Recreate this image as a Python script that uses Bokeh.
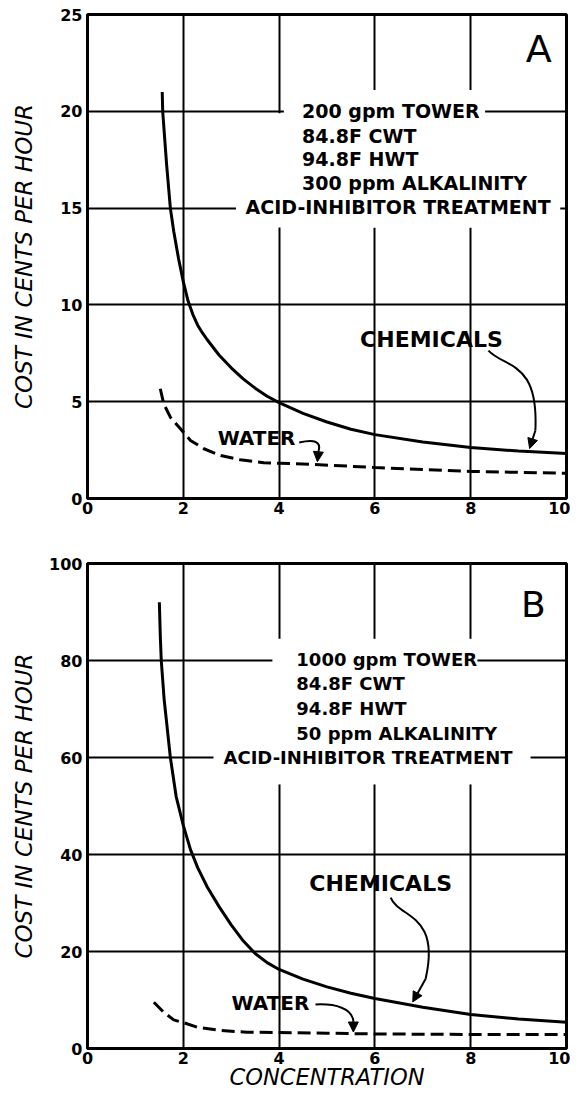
from bokeh.plotting import figure
from bokeh.layouts import column
from bokeh.models import Range1d, FixedTicker, Label, BoxAnnotation, Arrow, NormalHead
from bokeh.embed import file_html
from bokeh.resources import INLINE

# ---------------- data ----------------
x_ticks = [0, 2, 4, 6, 8, 10]
y_ticks_a = [0, 5, 10, 15, 20, 25]
y_ticks_b = [0, 20, 40, 60, 80, 100]

# Panel A (200 gpm tower)
conc_chem_a = [1.56, 1.57, 1.65, 1.73, 1.8, 1.9, 2.0, 2.1, 2.2, 2.3, 2.4, 2.5, 2.75, 3.0,
               3.25, 3.5, 3.75, 4.0, 4.5, 5.0, 5.5, 6.0, 7.0, 8.0, 9.0, 10.0]
chem_a = [21.0, 20.0, 17.3, 15.0, 13.8, 12.4, 11.2, 10.2, 9.5, 8.95, 8.55, 8.2, 7.4, 6.75,
          6.18, 5.7, 5.28, 4.95, 4.4, 3.95, 3.58, 3.3, 2.92, 2.63, 2.45, 2.32]
conc_water_a = [1.52, 1.59, 1.73, 1.94, 2.15, 2.43, 2.78, 3.19, 3.68, 4.03, 4.72, 6.0, 7.0, 8.0, 9.0, 10.0]
water_a = [5.67, 4.9, 4.2, 3.6, 3.0, 2.57, 2.22, 2.0, 1.85, 1.82, 1.76, 1.6, 1.5, 1.4, 1.35, 1.3]

# Panel B (1000 gpm tower)
conc_chem_b = [1.5, 1.52, 1.54, 1.6, 1.73, 1.85, 2.0, 2.15, 2.3, 2.5, 2.75, 3.0, 3.25, 3.5, 3.75,
               4.0, 4.5, 5.0, 5.5, 6.0, 7.0, 8.0, 9.0, 10.0]
chem_b = [92.0, 85.0, 80.0, 72.0, 60.0, 52.0, 46.0, 41.0, 37.3, 33.3, 29.2, 25.5, 22.2, 19.6, 17.7,
          16.3, 14.3, 12.7, 11.4, 10.3, 8.5, 7.0, 6.1, 5.4]
conc_water_b = [1.385, 1.59, 1.8, 1.98, 2.29, 2.78, 3.33, 3.96, 5.0, 6.0, 7.0, 8.0, 9.0, 10.0]
water_b = [9.55, 7.5, 5.9, 5.4, 4.4, 3.7, 3.36, 3.3, 3.15, 3.0, 2.95, 2.9, 2.9, 2.9]

text_a = ["200 gpm TOWER", "84.8F  CWT", "94.8F  HWT", "300 ppm ALKALINITY", "ACID-INHIBITOR TREATMENT"]
text_b = ["1000 gpm TOWER", "84.8F  CWT", "94.8F  HWT", "50 ppm ALKALINITY", "ACID-INHIBITOR TREATMENT"]

FONT = "DejaVu Sans"


def base_fig(height, top, bottom, ymax, yticks, xlabel, ylabel_standoff):
    p = figure(width=570, height=height, x_range=Range1d(0, 10), y_range=Range1d(0, ymax),
               output_backend="svg", toolbar_location=None,
               min_border_left=87, min_border_right=4, min_border_top=top, min_border_bottom=bottom)
    p.background_fill_color = "white"
    p.border_fill_color = "white"
    p.outline_line_color = "black"
    p.outline_line_width = 3
    p.xaxis.ticker = FixedTicker(ticks=x_ticks)
    p.yaxis.ticker = FixedTicker(ticks=yticks)
    p.xgrid.ticker = FixedTicker(ticks=x_ticks)
    p.ygrid.ticker = FixedTicker(ticks=yticks)
    for g in (p.xgrid, p.ygrid):
        g.grid_line_color = "black"
        g.grid_line_width = 2
        g.grid_line_alpha = 1.0
    for ax in (p.xaxis, p.yaxis):
        ax.axis_line_color = "black"
        ax.axis_line_width = 3
        ax.major_tick_in = 0
        ax.major_tick_out = 0
        ax.minor_tick_line_color = None
        ax.major_label_text_font = FONT
        ax.major_label_text_font_style = "bold"
        ax.major_label_text_font_size = "16px"
        ax.major_label_text_color = "black"
    p.yaxis.major_label_standoff = 5
    p.xaxis.major_label_standoff = 3
    p.yaxis.axis_label = "COST IN CENTS PER HOUR"
    p.yaxis.axis_label_text_font = FONT
    p.yaxis.axis_label_text_font_style = "italic"
    p.yaxis.axis_label_text_font_size = "23px"
    p.yaxis.axis_label_text_color = "black"
    p.yaxis.axis_label_standoff = ylabel_standoff
    if xlabel:
        p.xaxis.axis_label = xlabel
        p.xaxis.axis_label_text_font = FONT
        p.xaxis.axis_label_text_font_style = "italic"
        p.xaxis.axis_label_text_font_size = "22.5px"
        p.xaxis.axis_label_text_color = "black"
        p.xaxis.axis_label_standoff = -3
    return p


def add_text(p, lines, x_left, x_last, ys, size):
    for i, (t, y) in enumerate(zip(lines, ys)):
        xx = x_last if i == len(lines) - 1 else x_left
        p.add_layout(Label(x=xx, y=y, text=t, text_font=FONT, text_font_style="bold",
                           text_font_size=size, text_align="left", text_baseline="middle",
                           text_color="black"))


def add_arrow(p, p0, p1, p2, p3, tip, lw=2):
    p.bezier(x0=[p0[0]], y0=[p0[1]], x1=[p3[0]], y1=[p3[1]],
             cx0=[p1[0]], cy0=[p1[1]], cx1=[p2[0]], cy1=[p2[1]],
             line_color="black", line_width=lw)
    p.add_layout(Arrow(x_start=p3[0], y_start=p3[1], x_end=tip[0], y_end=tip[1],
                       line_color="black", line_width=lw,
                       end=NormalHead(size=10, fill_color="black", line_color="black", line_width=1)))


# ---------------- panel A ----------------
pa = base_fig(540, 14, 42, 25, y_ticks_a, None, 20)
pa.add_layout(BoxAnnotation(left=4.1, right=8.3, bottom=14.0, top=21.1,
                            fill_color="white", fill_alpha=1.0, line_color=None))
pa.add_layout(BoxAnnotation(left=3.1, right=9.87, bottom=14.0, top=19.9,
                            fill_color="white", fill_alpha=1.0, line_color=None))
pa.line(conc_chem_a, chem_a, line_color="black", line_width=3)
pa.line(conc_water_a, water_a, line_color="black", line_width=3, line_dash="13 6")
add_text(pa, text_a, 4.48, 3.30, [20.0, 18.75, 17.56, 16.3, 15.08], "19px")
pa.add_layout(Label(x=9.42, y=23.2, text="A", text_font=FONT, text_font_size="38px",
                    text_align="center", text_baseline="middle", text_color="black"))
pa.add_layout(Label(x=7.18, y=8.2, text="CHEMICALS", text_font=FONT, text_font_style="bold",
                    text_font_size="22px", text_align="center", text_baseline="middle",
                    text_color="black"))
pa.add_layout(Label(x=3.53, y=3.15, text="WATER", text_font=FONT, text_font_style="bold",
                    text_font_size="20px", text_align="center", text_baseline="middle",
                    text_color="black"))
add_arrow(pa, (8.37, 7.64), (8.73, 6.71), (9.42, 7.13), (9.35, 3.51), (9.23, 2.58))
add_arrow(pa, (4.42, 2.89), (4.70, 3.05), (4.90, 3.0), (4.82, 2.4), (4.80, 1.9))

# ---------------- panel B ----------------
pb = base_fig(552, 23, 44, 100, y_ticks_b, "CONCENTRATION", 9)
pb.add_layout(BoxAnnotation(left=3.86, right=8.14, bottom=54.5, top=84.5,
                            fill_color="white", fill_alpha=1.0, line_color=None))
pb.add_layout(BoxAnnotation(left=2.63, right=9.25, bottom=54.5, top=79.5,
                            fill_color="white", fill_alpha=1.0, line_color=None))
pb.line(conc_chem_b, chem_b, line_color="black", line_width=3)
pb.line(conc_water_b, water_b, line_color="black", line_width=3, line_dash="13 6")
add_text(pb, text_b, 4.36, 2.84, [80.2, 75.3, 70.1, 64.9, 60.0], "18px")
pb.add_layout(Label(x=9.31, y=91.5, text="B", text_font=FONT, text_font_size="36px",
                    text_align="center", text_baseline="middle", text_color="black"))
pb.add_layout(Label(x=6.12, y=34.0, text="CHEMICALS", text_font=FONT, text_font_style="bold",
                    text_font_size="22px", text_align="center", text_baseline="middle",
                    text_color="black"))
pb.add_layout(Label(x=3.82, y=9.3, text="WATER", text_font=FONT, text_font_style="bold",
                    text_font_size="20px", text_align="center", text_baseline="middle",
                    text_color="black"))
add_arrow(pb, (6.33, 31.13), (6.50, 26.8), (7.37, 28.0), (7.06, 14.4), (6.79, 9.6))
add_arrow(pb, (4.76, 9.07), (5.18, 9.28), (5.53, 8.25), (5.55, 5.6), (5.55, 3.4))

layout = column(pa, pb)
open("out.html", "w").write(file_html(layout, INLINE))
